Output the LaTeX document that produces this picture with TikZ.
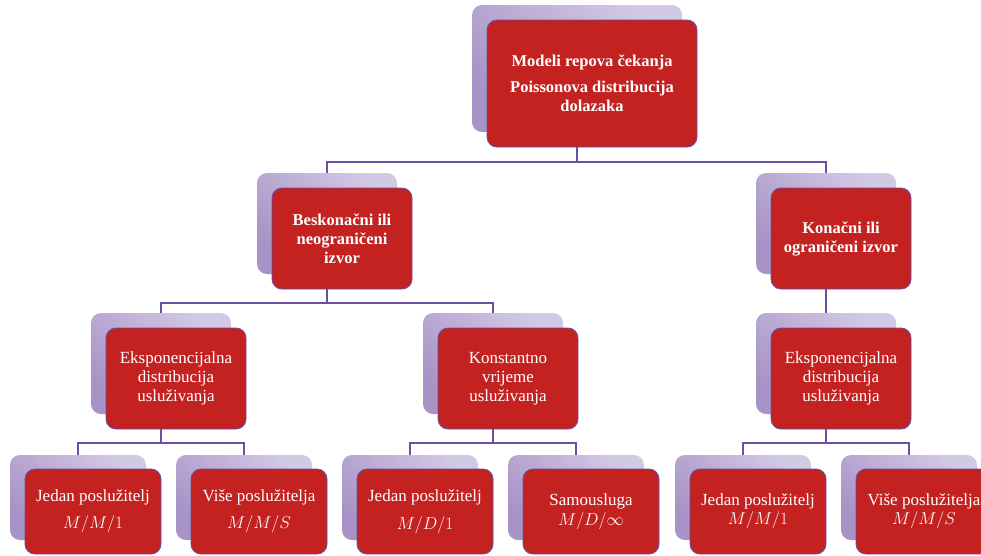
\documentclass[tikz,border=0pt]{standalone}
\usepackage{fontspec}
\setmainfont{Liberation Serif}
\usetikzlibrary{positioning}

\definecolor{boxred}{HTML}{C32221}
\definecolor{edgepurple}{HTML}{6B4FA3}
\definecolor{shadedark}{HTML}{A793C6}
\definecolor{shadelight}{HTML}{D2C9E5}

\begin{document}
\begin{tikzpicture}[
        x=1pt, y=-1pt,
        every node/.style={outer sep=0pt, inner sep=2pt},
        back/.style={rounded corners=10pt, left color=shadedark, right color=shadelight, shading angle=135},
        front/.style={rounded corners=10pt, fill=boxred, draw=edgepurple, line width=0.9pt,
                      text=white, align=center, font=\fontsize{17}{19}\selectfont},
        bold/.style={font=\fontsize{16.5}{19}\selectfont\bfseries},
        big/.style={minimum width=210pt, minimum height=127pt},
        mid/.style={minimum width=140pt, minimum height=101pt},
        small/.style={minimum width=136pt, minimum height=85pt},
        link/.style={draw=edgepurple, line width=2.8pt}
    ]
        \useasboundingbox (0,0) rectangle (981,555);

        % Shaded back boxes (the connectors attach to these)
        \node[back, big]   (m-s)  at (577,68.5)  {};
        \node[back, mid]   (bi-s) at (327,223.5) {};
        \node[back, mid]   (ki-s) at (826,223.5) {};
        \node[back, mid]   (ea-s) at (161,363.5) {};
        \node[back, mid]   (kv-s) at (493,363.5) {};
        \node[back, mid]   (eb-s) at (826,363.5) {};
        \node[back, small] (j1-s) at (78,497.5)  {};
        \node[back, small] (v1-s) at (244,497.5) {};
        \node[back, small] (j2-s) at (410,497.5) {};
        \node[back, small] (sa-s) at (576,497.5) {};
        \node[back, small] (j3-s) at (743,497.5) {};
        \node[back, small] (v3-s) at (909,497.5) {};

        % Red front boxes, shifted down and right
        \node[front, bold, big] (m) [below right=15pt and 15pt of m-s.north west]
            {Modeli repova čekanja\\[7pt] Poissonova distribucija\\ dolazaka};
        \node[front, bold, mid] (bi) [below right=15pt and 15pt of bi-s.north west]
            {Beskonačni ili\\ neograničeni\\ izvor};
        \node[front, bold, mid] (ki) [below right=15pt and 15pt of ki-s.north west]
            {Konačni ili\\ ograničeni izvor};
        \node[front, mid] (ea) [below right=15pt and 15pt of ea-s.north west]
            {Eksponencijalna\\ distribucija\\ usluživanja};
        \node[front, mid] (kv) [below right=15pt and 15pt of kv-s.north west]
            {Konstantno\\ vrijeme\\ usluživanja};
        \node[front, mid] (eb) [below right=15pt and 15pt of eb-s.north west]
            {Eksponencijalna\\ distribucija\\ usluživanja};
        \node[front, small] (j1) [below right=14pt and 15pt of j1-s.north west]
            {Jedan poslužitelj\\[8pt] $M/M/1$};
        \node[front, small] (v1) [below right=14pt and 15pt of v1-s.north west]
            {Više poslužitelja\\[8pt] $M/M/S$};
        \node[front, small] (j2) [below right=14pt and 15pt of j2-s.north west]
            {Jedan poslužitelj\\[9pt] $M/D/1$};
        \node[front, small] (sa) [below right=14pt and 15pt of sa-s.north west]
            {Samousluga\\[1pt] $M/D/\infty$};
        \node[front, small] (j3) [below right=14pt and 15pt of j3-s.north west]
            {Jedan poslužitelj\\[0pt] $M/M/1$};
        \node[front, small] (v3) [below right=14pt and 15pt of v3-s.north west]
            {Više poslužitelja\\[0pt] $M/M/S$};

        % Draw the tree connectors
        \draw[link] (m-s |- m.south) -- ++(0,15) -| (bi-s.north);
        \draw[link] (m-s |- m.south) -- ++(0,15) -| (ki-s.north);
        \draw[link] (bi-s |- bi.south) -- ++(0,14) -| (ea-s.north);
        \draw[link] (bi-s |- bi.south) -- ++(0,14) -| (kv-s.north);
        \draw[link] (ki-s |- ki.south) -- (eb-s.north);
        \draw[link] (ea-s |- ea.south) -- ++(0,14) -| (j1-s.north);
        \draw[link] (ea-s |- ea.south) -- ++(0,14) -| (v1-s.north);
        \draw[link] (kv-s |- kv.south) -- ++(0,14) -| (j2-s.north);
        \draw[link] (kv-s |- kv.south) -- ++(0,14) -| (sa-s.north);
        \draw[link] (eb-s |- eb.south) -- ++(0,14) -| (j3-s.north);
        \draw[link] (eb-s |- eb.south) -- ++(0,14) -| (v3-s.north);

    \end{tikzpicture}
\end{document}
